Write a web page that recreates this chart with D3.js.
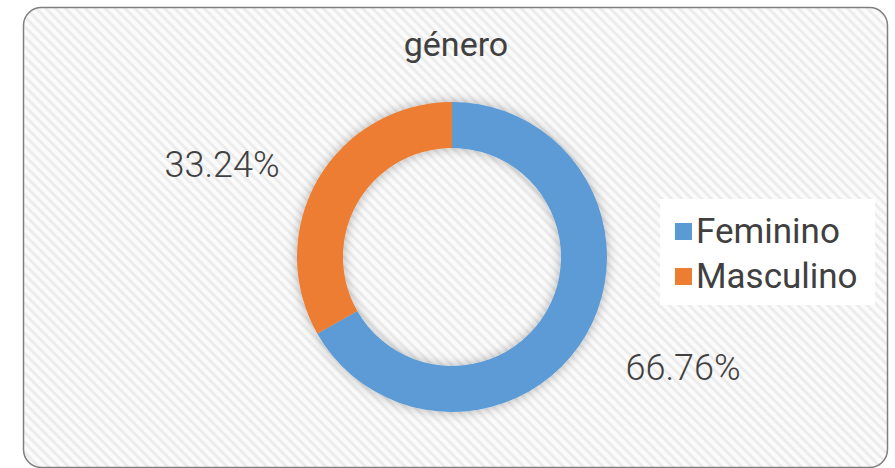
<!DOCTYPE html>
<html>
<head>
<meta charset="utf-8">
<script src="https://cdn.jsdelivr.net/npm/d3@7"></script>
<style>
  body { margin: 0; background: #fff; }
  text { font-family: Roboto, "Open Sans", sans-serif; fill: #404040; }
</style>
</head>
<body>
<div id="chart"></div>
<script>
const categories = ["Feminino", "Masculino"];
const values = [66.76, 33.24];
const colors = ["#5B9BD5", "#ED7D31"];
const title = "género";

const W = 895, H = 468;
const cx = 452, cy = 257, outerR = 155, innerR = 109;

const svg = d3.select("#chart").append("svg")
    .attr("width", W)
    .attr("height", H);

const defs = svg.append("defs");

// diagonal stripes like the office "light downward diagonal" fill
const pat = defs.append("pattern")
    .attr("id", "stripes")
    .attr("patternUnits", "userSpaceOnUse")
    .attr("width", 7)
    .attr("height", 7)
    .attr("patternTransform", "rotate(45)");
pat.append("rect").attr("width", 7).attr("height", 7).attr("fill", "#fbfbfb");
pat.append("rect").attr("width", 7).attr("height", 3).attr("fill", "#ececec");

const shadow = defs.append("filter")
    .attr("id", "shadow")
    .attr("x", "-30%").attr("y", "-30%")
    .attr("width", "160%").attr("height", "160%");
shadow.append("feDropShadow")
    .attr("dx", 0).attr("dy", 0)
    .attr("stdDeviation", 6)
    .attr("flood-color", "#000")
    .attr("flood-opacity", 0.3);

svg.append("rect")
    .attr("x", 23.5).attr("y", 7.5)
    .attr("width", 864).attr("height", 460)
    .attr("rx", 18)
    .attr("fill", "url(#stripes)")
    .attr("stroke", "#7f7f7f")
    .attr("stroke-width", 1.5);

svg.append("text")
    .attr("x", 456).attr("y", 56)
    .attr("text-anchor", "middle")
    .style("font-size", "34px")
    .text(title);

const pie = d3.pie().sort(null).value(d => d);
const arc = d3.arc().innerRadius(innerR).outerRadius(outerR);

const g = svg.append("g")
    .attr("transform", `translate(${cx},${cy})`);

g.append("g")
    .attr("filter", "url(#shadow)")
    .selectAll("path")
    .data(pie(values))
    .join("path")
    .attr("d", arc)
    .attr("fill", (d, i) => colors[i]);

// data labels outside the ring
const labelPos = [[231, 111], [-230, -92]];
g.selectAll(".lbl")
    .data(pie(values))
    .join("text")
    .attr("class", "lbl")
    .attr("x", (d, i) => labelPos[i][0])
    .attr("y", (d, i) => labelPos[i][1])
    .attr("text-anchor", "middle")
    .attr("dominant-baseline", "central")
    .style("font-size", "36px")
    .style("font-weight", 300)
    .text(d => d3.format(".2f")(d.data) + "%");

// legend
const lg = svg.append("g");
lg.append("rect")
    .attr("x", 660).attr("y", 199)
    .attr("width", 215).attr("height", 106)
    .attr("fill", "#fff");

const items = lg.selectAll(".item")
    .data(categories)
    .join("g")
    .attr("class", "item")
    .attr("transform", (d, i) => `translate(675,${231 + i * 45})`);

items.append("rect")
    .attr("x", 0).attr("y", -8)
    .attr("width", 17).attr("height", 17)
    .attr("fill", (d, i) => colors[i]);

items.append("text")
    .attr("x", 21).attr("y", 0)
    .attr("dominant-baseline", "central")
    .style("font-size", "35px")
    .text(d => d);
</script>
</body>
</html>
